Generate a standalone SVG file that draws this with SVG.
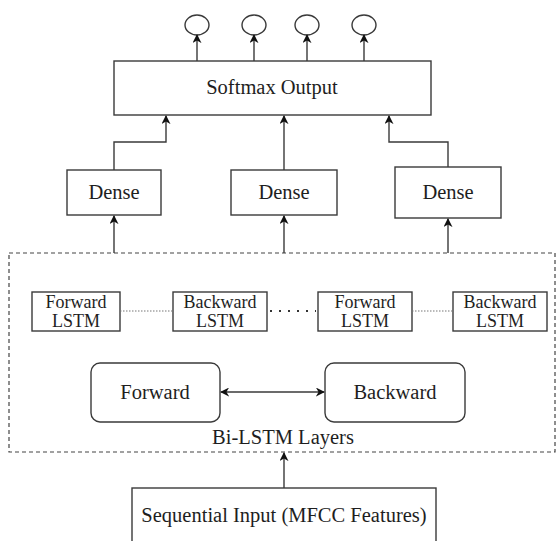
<svg xmlns="http://www.w3.org/2000/svg" width="558" height="541" viewBox="0 0 558 541">
<style>
.box{fill:#fff;stroke:#3a3a3a;stroke-width:1.4}
.ln{fill:none;stroke:#3a3a3a;stroke-width:1.4}
text{font-family:'Liberation Serif','Times New Roman','DejaVu Serif',serif;fill:#1e1e1e;text-anchor:middle}
.big{font-size:20.5px}
.sm{font-size:18px}
.dot{fill:none;stroke:#777;stroke-width:1.2;stroke-dasharray:1.5 1.5}
</style>
<defs>
<marker id="ah" viewBox="0 0 10 10" refX="9" refY="5" markerWidth="9" markerHeight="9" markerUnits="userSpaceOnUse" orient="auto-start-reverse">
<path d="M0,0 L10,5 L0,10 L3,5 z" fill="#111"/>
</marker>
</defs>
<rect width="558" height="541" fill="#fff"/>
<g id="bilstm">
<rect x="9" y="253" width="546" height="199" fill="none" stroke="#444" stroke-width="1.2" stroke-dasharray="4 3"/>
<text class="big" x="283" y="444" font-family="Liberation Serif, serif">Bi-LSTM Layers</text>
</g>
<g id="outputs">
<ellipse cx="197" cy="25" rx="12" ry="10" class="box"/>
<ellipse cx="254" cy="25" rx="12" ry="10" class="box"/>
<ellipse cx="307" cy="25" rx="12" ry="10" class="box"/>
<ellipse cx="364" cy="25" rx="12" ry="10" class="box"/>
</g>
<g id="softmax">
<rect x="114" y="61" width="317" height="54" class="box"/>
<text class="big" x="272" y="94">Softmax Output</text>
</g>
<g id="dense1">
<rect x="67" y="170" width="94" height="45" class="box"/>
<text class="big" x="114" y="199">Dense</text>
</g>
<g id="dense2">
<rect x="231" y="170" width="106" height="45" class="box"/>
<text class="big" x="284" y="199">Dense</text>
</g>
<g id="dense3">
<rect x="395" y="167" width="106" height="51" class="box"/>
<text class="big" x="448" y="199">Dense</text>
</g>
<g id="lstm1">
<rect x="32" y="292" width="88" height="39" class="box"/>
<text class="sm" x="76" y="308">Forward</text>
<text class="sm" x="76" y="327">LSTM</text>
</g>
<g id="lstm2">
<rect x="173" y="292" width="94" height="39" class="box"/>
<text class="sm" x="220" y="308">Backward</text>
<text class="sm" x="220" y="327">LSTM</text>
</g>
<g id="lstm3">
<rect x="318" y="292" width="94" height="39" class="box"/>
<text class="sm" x="365" y="308">Forward</text>
<text class="sm" x="365" y="327">LSTM</text>
</g>
<g id="lstm4">
<rect x="453" y="292" width="94" height="39" class="box"/>
<text class="sm" x="500" y="308">Backward</text>
<text class="sm" x="500" y="327">LSTM</text>
</g>
<g id="forward">
<rect x="91" y="363" width="129" height="59" rx="9" class="box"/>
<text class="big" x="155" y="399">Forward</text>
</g>
<g id="backward">
<rect x="325" y="363" width="140" height="59" rx="9" class="box"/>
<text class="big" x="395" y="399">Backward</text>
</g>
<g id="input">
<rect x="132" y="488" width="304" height="60" class="box"/>
<text class="big" x="284" y="522">Sequential Input (MFCC Features)</text>
</g>
<g id="connectors">
<line x1="197" y1="61" x2="197" y2="35" class="ln" marker-end="url(#ah)"/>
<line x1="254" y1="61" x2="254" y2="35" class="ln" marker-end="url(#ah)"/>
<line x1="307" y1="61" x2="307" y2="35" class="ln" marker-end="url(#ah)"/>
<line x1="364" y1="61" x2="364" y2="35" class="ln" marker-end="url(#ah)"/>
<polyline points="114,170 114,142 166,142 166,116" class="ln" marker-end="url(#ah)"/>
<line x1="284" y1="170" x2="284" y2="116" class="ln" marker-end="url(#ah)"/>
<polyline points="448,167 448,142 389,142 389,116" class="ln" marker-end="url(#ah)"/>
<line x1="114" y1="253" x2="114" y2="216" class="ln" marker-end="url(#ah)"/>
<line x1="284" y1="253" x2="284" y2="216" class="ln" marker-end="url(#ah)"/>
<line x1="448" y1="253" x2="448" y2="219" class="ln" marker-end="url(#ah)"/>
<line x1="120" y1="311" x2="173" y2="311" class="dot"/>
<line x1="270" y1="311" x2="316" y2="311" fill="none" stroke="#333" stroke-width="2.2" stroke-dasharray="2 7"/>
<line x1="412" y1="311" x2="453" y2="311" class="dot"/>
<line x1="221" y1="392" x2="324" y2="392" class="ln" marker-start="url(#ah)" marker-end="url(#ah)"/>
<line x1="284" y1="488" x2="284" y2="453" class="ln" marker-end="url(#ah)"/>
</g>
</svg>
